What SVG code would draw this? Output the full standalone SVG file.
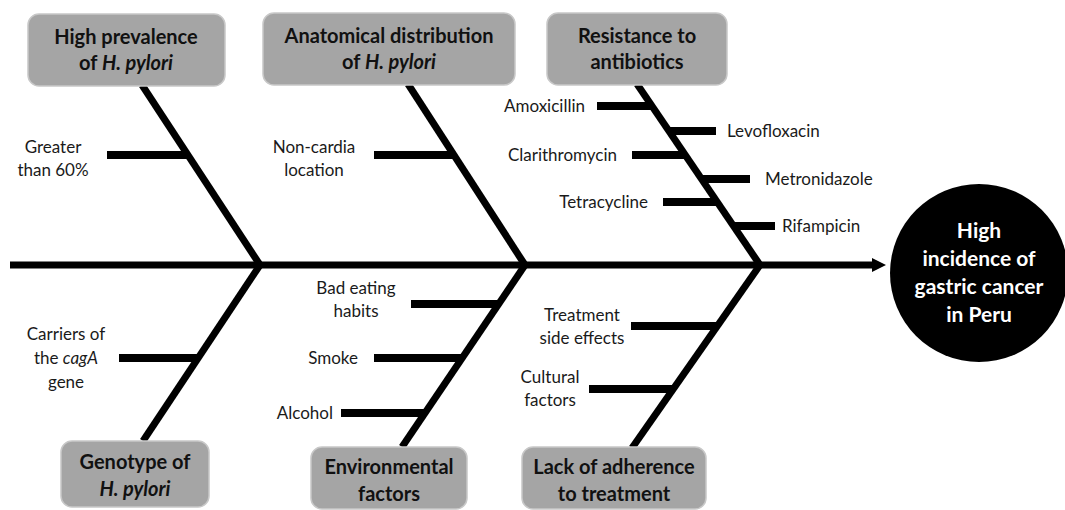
<svg xmlns="http://www.w3.org/2000/svg" width="1065" height="510" viewBox="0 0 1065 510">
<defs>
<style>
.box{fill:#a5a5a5;stroke:#c8c8c8;stroke-width:1.5}
.bt{font-family:Lato,"Liberation Sans",sans-serif;font-weight:bold;font-size:20px;fill:#111;text-anchor:middle}
.lb{font-family:Lato,"Liberation Sans",sans-serif;font-size:17px;fill:#1a1a1a}
.mid{text-anchor:middle}
.end{text-anchor:end}
.bone{stroke:#000;stroke-width:7;fill:none}
.tick{stroke:#000;stroke-width:8;fill:none}
.ct{font-family:Lato,"Liberation Sans",sans-serif;font-weight:bold;font-size:21px;fill:#fff;text-anchor:middle}
</style>
</defs>
<rect width="1065" height="510" fill="#fff"/>
<g id="connectors">
<line class="bone" x1="10" y1="265" x2="875" y2="265"/>
<polygon points="872,258 886,265 872,272" fill="#000"/>
<line class="bone" x1="142" y1="85" x2="260" y2="265"/>
<line class="bone" x1="408" y1="84" x2="525" y2="265"/>
<line class="bone" x1="637" y1="84" x2="760" y2="265"/>
<line class="bone" x1="260" y1="265" x2="143" y2="441"/>
<line class="bone" x1="525" y1="265" x2="402" y2="447"/>
<line class="bone" x1="760" y1="265" x2="632" y2="448"/>
<line class="tick" x1="107" y1="155" x2="188" y2="155"/>
<line class="tick" x1="374" y1="155" x2="453" y2="155"/>
<line class="tick" x1="597" y1="106" x2="652" y2="106"/>
<line class="tick" x1="668" y1="131" x2="716" y2="131"/>
<line class="tick" x1="632" y1="155" x2="685" y2="155"/>
<line class="tick" x1="701" y1="179" x2="750" y2="179"/>
<line class="tick" x1="663" y1="202" x2="717" y2="202"/>
<line class="tick" x1="733" y1="226" x2="775" y2="226"/>
<line class="tick" x1="119" y1="358" x2="198" y2="358"/>
<line class="tick" x1="411" y1="304" x2="498" y2="304"/>
<line class="tick" x1="374" y1="358" x2="462" y2="358"/>
<line class="tick" x1="341" y1="413" x2="424" y2="413"/>
<line class="tick" x1="631" y1="326" x2="718" y2="326"/>
<line class="tick" x1="589" y1="389" x2="673" y2="389"/>
</g>
<g id="node-prevalence">
<rect class="box" x="28" y="14" width="197" height="72" rx="11"/>
<text class="bt" x="126" y="44">High prevalence</text>
<text class="bt" x="126" y="70">of <tspan font-style="italic">H. pylori</tspan></text>
</g>
<g id="node-anatomical">
<rect class="box" x="263" y="13" width="252" height="72" rx="11"/>
<text class="bt" x="389" y="43">Anatomical distribution</text>
<text class="bt" x="389" y="69">of <tspan font-style="italic">H. pylori</tspan></text>
</g>
<g id="node-resistance">
<rect class="box" x="547" y="13" width="180" height="72" rx="11"/>
<text class="bt" x="637" y="43">Resistance to</text>
<text class="bt" x="637" y="69">antibiotics</text>
</g>
<g id="node-genotype">
<rect class="box" x="61" y="441" width="148" height="66" rx="11"/>
<text class="bt" x="135" y="469">Genotype of</text>
<text class="bt" x="135" y="496" font-style="italic">H. pylori</text>
</g>
<g id="node-environmental">
<rect class="box" x="311" y="447" width="156" height="62" rx="11"/>
<text class="bt" x="389" y="474">Environmental</text>
<text class="bt" x="389" y="501">factors</text>
</g>
<g id="node-adherence">
<rect class="box" x="522" y="447" width="184" height="62" rx="11"/>
<text class="bt" x="614" y="474">Lack of adherence</text>
<text class="bt" x="614" y="501">to treatment</text>
</g>
<g id="node-outcome">
<circle cx="979" cy="273" r="89" fill="#000"/>
<text class="ct" x="979" y="238">High</text>
<text class="ct" x="979" y="266">incidence of</text>
<text class="ct" x="979" y="294">gastric cancer</text>
<text class="ct" x="979" y="322">in Peru</text>
</g>
<g id="labels">
<text class="lb mid" x="53" y="153">Greater</text>
<text class="lb mid" x="53" y="176">than 60%</text>
<text class="lb mid" x="314" y="153">Non-cardia</text>
<text class="lb mid" x="314" y="176">location</text>
<text class="lb end" x="585" y="112">Amoxicillin</text>
<text class="lb" x="727" y="137">Levofloxacin</text>
<text class="lb end" x="617" y="161">Clarithromycin</text>
<text class="lb" x="765" y="185">Metronidazole</text>
<text class="lb end" x="648" y="208">Tetracycline</text>
<text class="lb" x="782" y="232">Rifampicin</text>
<text class="lb mid" x="66" y="340">Carriers of</text>
<text class="lb mid" x="66" y="364">the <tspan font-style="italic">cagA</tspan></text>
<text class="lb mid" x="66" y="388">gene</text>
<text class="lb mid" x="356" y="294">Bad eating</text>
<text class="lb mid" x="356" y="317">habits</text>
<text class="lb end" x="358" y="364">Smoke</text>
<text class="lb end" x="333" y="419">Alcohol</text>
<text class="lb mid" x="582" y="321">Treatment</text>
<text class="lb mid" x="582" y="344">side effects</text>
<text class="lb mid" x="550" y="383">Cultural</text>
<text class="lb mid" x="550" y="406">factors</text>
</g>
</svg>
